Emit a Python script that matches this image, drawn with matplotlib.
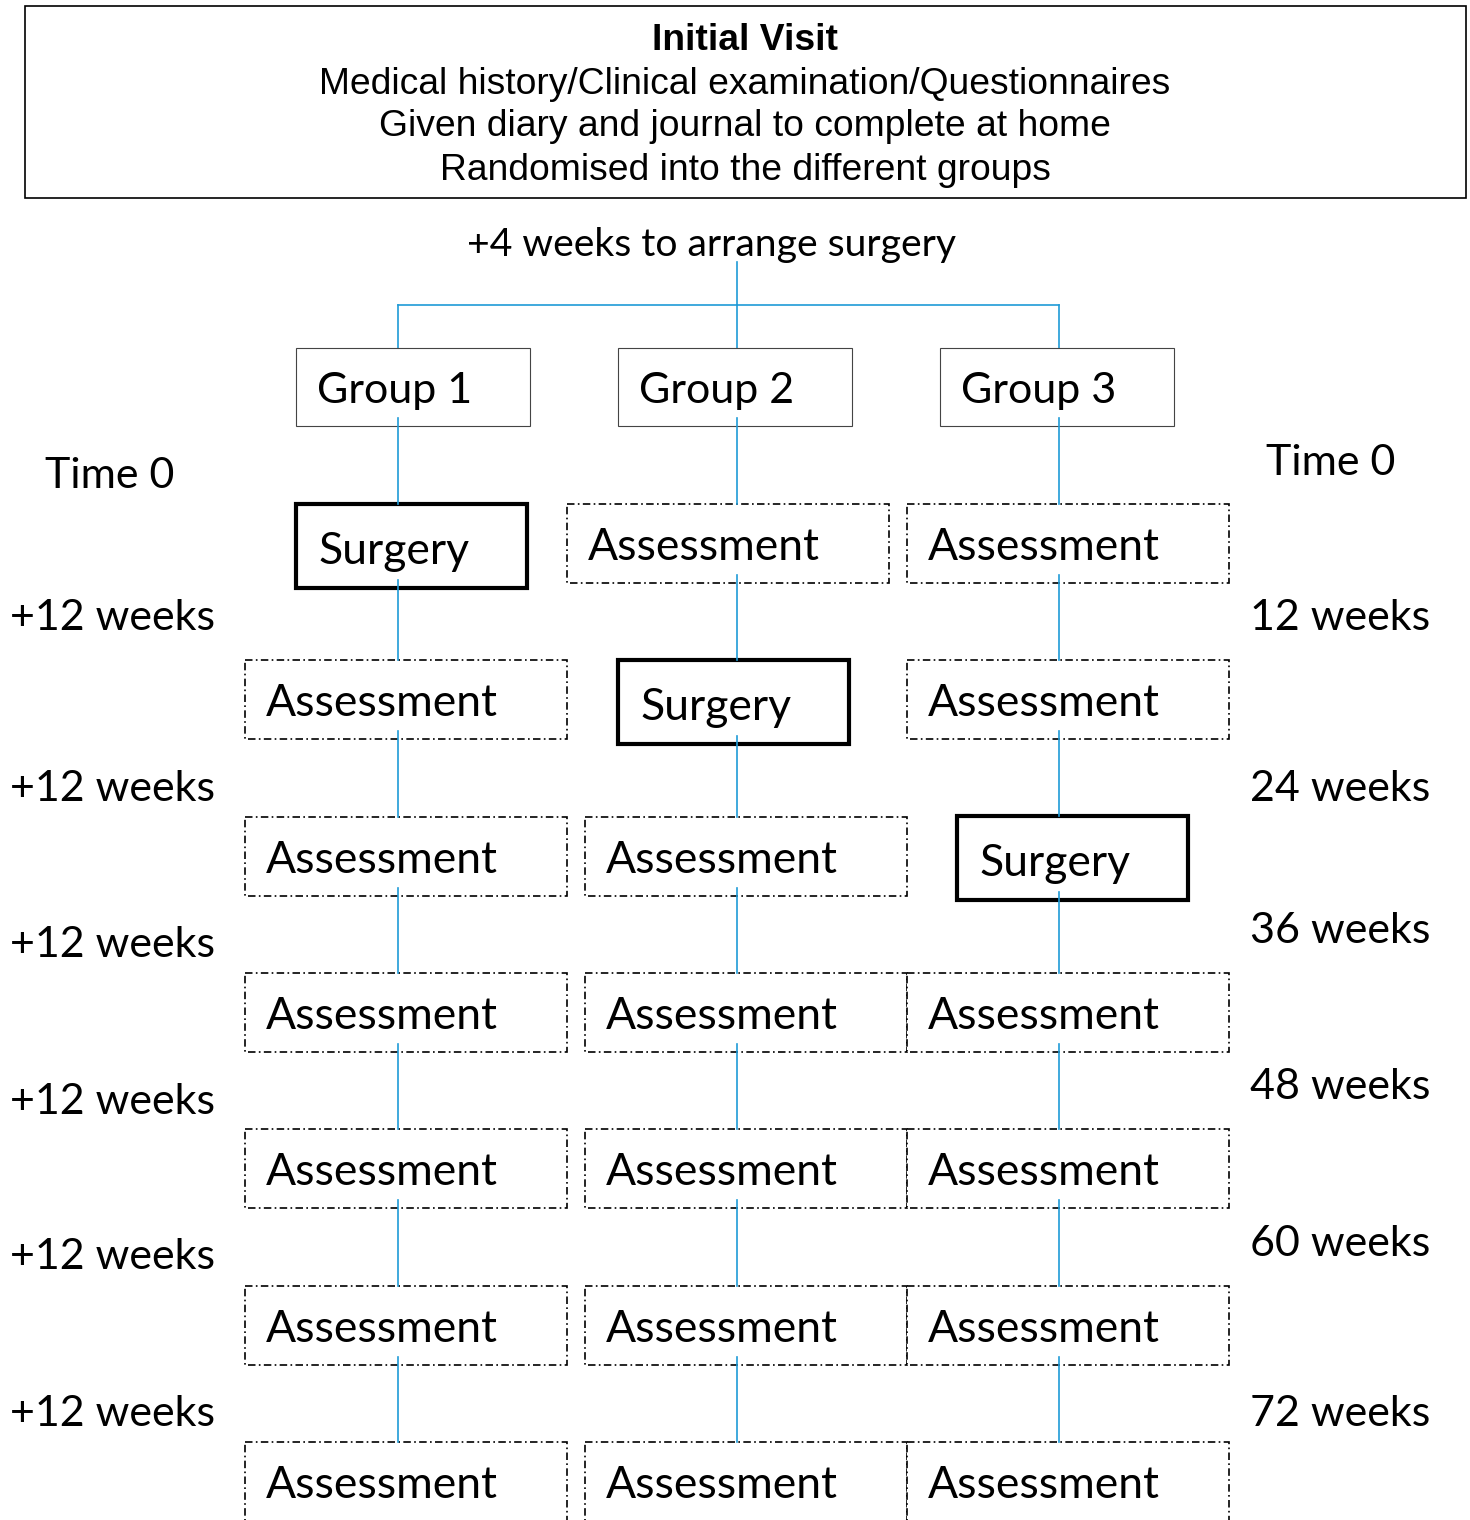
import matplotlib.pyplot as plt
from matplotlib.patches import Rectangle

# content
header_title = "Initial Visit"
header_lines = ["Medical history/Clinical examination/Questionnaires",
                "Given diary and journal to complete at home",
                "Randomised into the different groups"]
arrange_text = "+4 weeks to arrange surgery"
groups = ["Group 1", "Group 2", "Group 3"]
surgery_row = [0, 1, 2]          # row in which each group has surgery
left_labels = ["Time 0", "+12 weeks", "+12 weeks", "+12 weeks",
               "+12 weeks", "+12 weeks", "+12 weeks"]
right_labels = ["Time 0", "12 weeks", "24 weeks", "36 weeks",
                "48 weeks", "60 weeks", "72 weeks"]

# layout (pixels)
W, H = 1470, 1520
blue = "#1f9bd7"
body_font = ["Lato", "DejaVu Sans"]
col_x = [398, 737, 1059]
group_left = [296, 618, 940]
row_top = [504, 660, 817, 973, 1129, 1286, 1442]
box_h = 79
assess_left = [[None, 567, 907], [245, None, 907], [245, 585, None]] + [[245, 585, 907]] * 4
surgery_left = [296, 618, 957]
left_y = [476, 618, 789, 945, 1102, 1257, 1414]
right_y = [463, 618, 789, 931, 1087, 1244, 1414]

fig = plt.figure(figsize=(W / 100, H / 100), dpi=100)
ax = fig.add_axes([0, 0, 1, 1])
ax.set_xlim(0, W)
ax.set_ylim(H, 0)
ax.axis("off")

dashdot = (0, (4.5, 2, 1, 2))


def box(x, y, w, h, **kw):
    ax.add_patch(Rectangle((x, y), w, h, facecolor="white", zorder=2, **kw))


# header box
box(25, 6, 1441, 192, edgecolor="black", linewidth=1.2)
ax.text(745, 41, header_title, ha="center", va="center", fontsize=26.8,
        fontweight="bold", family="Liberation Sans", zorder=3)
for i, line in enumerate(header_lines):
    ax.text(745, 84 + i * 43, line, ha="center", va="center", fontsize=26.8,
            family="Liberation Sans", zorder=3)

ax.text(712, 245, arrange_text, ha="center", va="center", fontsize=28.2,
        family=body_font, zorder=3)

# tree at the top
ax.plot([737, 737], [262, 305], color=blue, lw=1.2, zorder=1)
ax.plot([col_x[0], col_x[2]], [305, 305], color=blue, lw=1.2, zorder=1)
for cx in col_x:
    ax.plot([cx, cx], [305, 348], color=blue, lw=1.2, zorder=1)

# group boxes
for g, name in enumerate(groups):
    box(group_left[g], 348, 234, 78, edgecolor="#444444", linewidth=0.8)
    ax.text(group_left[g] + 21, 391, name, ha="left", va="center",
            fontsize=31, family=body_font, zorder=3)

# column boxes and connectors
for g in range(len(groups)):
    prev_bottom = 426
    for r in range(len(row_top)):
        top = row_top[r]
        if r == surgery_row[g]:
            x = surgery_left[g]
            bh = 84
            if r == 2:
                top -= 1
            box(x, top, 231, bh, edgecolor="black", linewidth=3)
            ax.text(x + 22, top + bh / 2 + 5, "Surgery", ha="left", va="center",
                    fontsize=32, family=body_font, zorder=3)
        else:
            x = assess_left[r][g]
            bh = box_h
            box(x, top, 322, bh, edgecolor="black", linewidth=1.2, linestyle=dashdot)
            ax.text(x + 21, top + bh / 2 + 4, "Assessment", ha="left", va="center",
                    fontsize=32, family=body_font, zorder=3)
        ax.plot([col_x[g], col_x[g]], [prev_bottom - 8, top], color=blue,
                lw=1.2, zorder=4)
        prev_bottom = top + bh

# time labels
for lab, y in zip(left_labels, left_y):
    x = 45 if lab == "Time 0" else 10
    ax.text(x, y, lab, ha="left", va="center", fontsize=31, family=body_font)
for lab, y in zip(right_labels, right_y):
    x = 1266 if lab == "Time 0" else 1250
    ax.text(x, y, lab, ha="left", va="center", fontsize=31, family=body_font)

fig.savefig("out.png", dpi=100)
